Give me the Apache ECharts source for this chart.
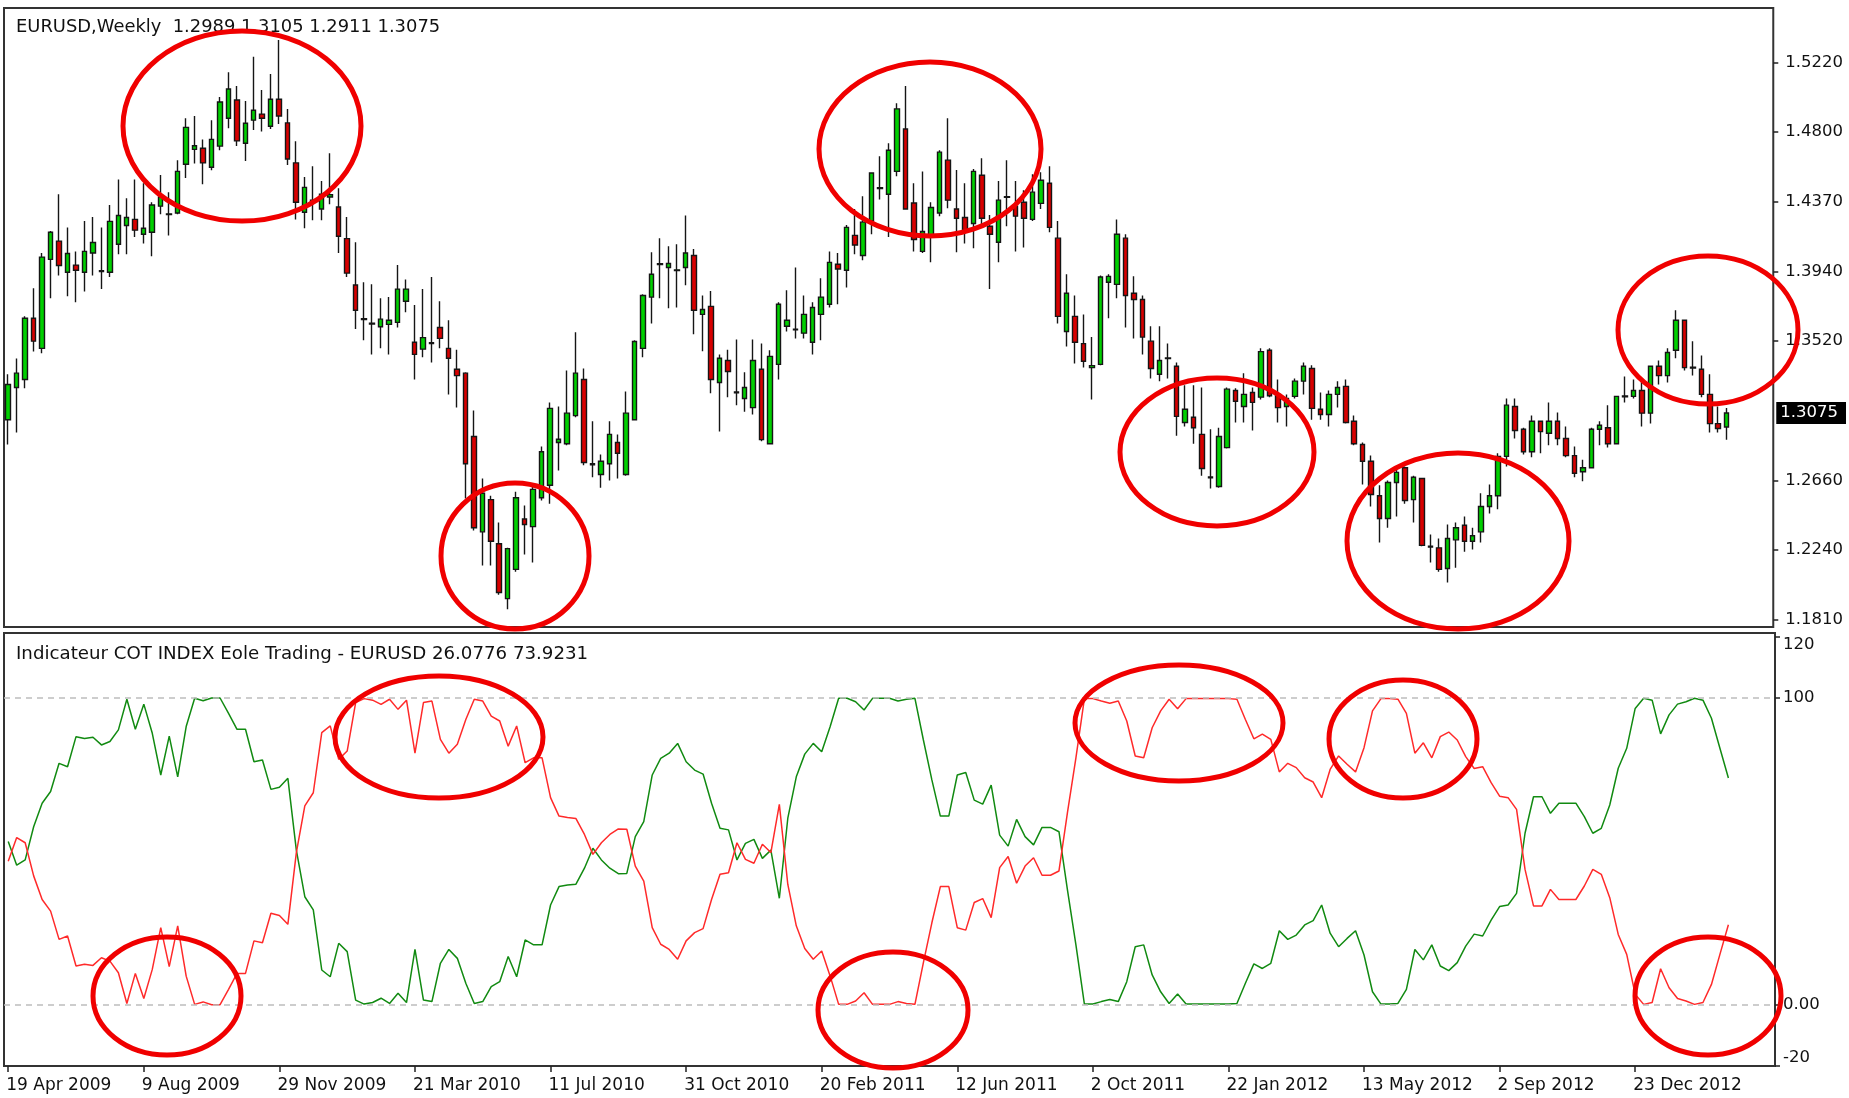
<!DOCTYPE html>
<html>
<head>
<meta charset="utf-8">
<script src="https://cdn.jsdelivr.net/npm/echarts@6/dist/echarts.min.js"></script>
<style>
html,body{margin:0;padding:0;background:#fff;}
#chart{width:1849px;height:1098px;}
</style>
</head>
<body>
<div id="chart"></div>
<script>
// ---- DATA (weekly EURUSD, 19 Apr 2009 .. 10 Mar 2013) ----
const tickLabels = ['19 Apr 2009','9 Aug 2009','29 Nov 2009','21 Mar 2010','11 Jul 2010','31 Oct 2010','20 Feb 2011','12 Jun 2011','2 Oct 2011','22 Jan 2012','13 May 2012','2 Sep 2012','23 Dec 2012'];
const priceTicks = [1.5220, 1.4800, 1.4370, 1.3940, 1.3520, 1.2660, 1.2240, 1.1810];
const cotTicks = [-20, 0, 100, 120];
const cotTickLabels = ['-20', '0.00', '100', '120'];

const openP = [1.3034,1.3231,1.3280,1.3655,1.3471,1.4016,1.4128,1.3937,1.3981,1.3937,1.4055,1.3942,1.3937,1.4109,1.4224,1.4261,1.4170,1.4182,1.4342,1.4290,
1.4300,1.4599,1.4690,1.4697,1.4580,1.4710,1.4881,1.4992,1.4727,1.4869,1.4906,1.4832,1.4997,1.4852,1.4607,1.4305,1.4366,1.4325,1.4398,1.4337,
1.4143,1.3859,1.3652,1.3625,1.3603,1.3618,1.3630,1.3760,1.3508,1.3466,1.3500,1.3599,1.3471,1.3343,1.3319,1.2931,1.2347,1.2544,1.2274,1.1938,
1.2117,1.2426,1.2379,1.2556,1.2632,1.2894,1.2887,1.3059,1.3280,1.2764,1.2698,1.2764,1.2894,1.2698,1.3034,1.3471,1.3785,1.3984,1.3966,1.3947,
1.3966,1.4040,1.3679,1.3728,1.3262,1.3397,1.3204,1.3164,1.3108,1.3343,1.2887,1.3373,1.3606,1.3589,1.3564,1.3508,1.3679,1.3741,1.3986,1.3949,
1.4163,1.4040,1.4251,1.4450,1.4415,1.4555,1.4815,1.4361,1.4065,1.4158,1.4300,1.4624,1.4325,1.4273,1.4236,1.4531,1.4219,1.4121,1.4396,1.4342,
1.4366,1.4261,1.4359,1.4482,1.4146,1.3574,1.3667,1.3500,1.3353,1.3373,1.3876,1.3863,1.4146,1.3809,1.3770,1.3515,1.3312,1.3412,1.3361,1.3017,
1.3049,1.2944,1.2683,1.2625,1.2863,1.3213,1.3115,1.3201,1.3172,1.3459,1.3189,1.3115,1.3177,1.3270,1.3348,1.3098,1.3066,1.3189,1.3238,1.3024,
1.2882,1.2779,1.2568,1.2429,1.2649,1.2740,1.2544,1.2674,1.2259,1.2249,1.2122,1.2298,1.2387,1.2289,1.2347,1.2502,1.2568,1.2809,1.3115,1.2975,
1.2838,1.3024,1.2951,1.3024,1.2919,1.2814,1.2715,1.2740,1.2975,1.2985,1.2887,1.3179,1.3177,1.3213,1.3074,1.3361,1.3304,1.3459,1.3643,1.3356,
1.3343,1.3189,1.3010,1.2989];
const closeP = [1.3250,1.3319,1.3655,1.3515,1.4030,1.4182,1.3979,1.4052,1.3949,1.4065,1.4119,1.3947,1.4249,1.4285,1.4273,1.4195,1.4207,1.4349,1.4398,1.4295,
1.4555,1.4825,1.4712,1.4607,1.4751,1.4980,1.5060,1.4742,1.4850,1.4930,1.4881,1.4997,1.4894,1.4631,1.4366,1.4457,1.4379,1.4415,1.4413,1.4158,
1.3932,1.3704,1.3647,1.3620,1.3650,1.3643,1.3834,1.3834,1.3434,1.3537,1.3505,1.3532,1.3410,1.3304,1.2764,1.2372,1.2583,1.2289,1.1975,1.2244,
1.2556,1.2392,1.2607,1.2838,1.3103,1.2914,1.3074,1.3319,1.2772,1.2757,1.2779,1.2944,1.2828,1.3074,1.3513,1.3795,1.3925,1.3989,1.3991,1.3952,
1.4055,1.3704,1.3709,1.3280,1.3410,1.3329,1.3199,1.3231,1.3397,1.2912,1.3422,1.3741,1.3643,1.3584,1.3679,1.3721,1.3785,1.3998,1.3957,1.4212,
1.4104,1.4244,1.4545,1.4455,1.4685,1.4938,1.4325,1.4138,1.4187,1.4334,1.4673,1.4379,1.4268,1.4195,1.4555,1.4268,1.4170,1.4379,1.4400,1.4281,
1.4268,1.4428,1.4501,1.4212,1.3667,1.3809,1.3508,1.3392,1.3365,1.3908,1.3912,1.4170,1.3795,1.3770,1.3540,1.3348,1.3397,1.3408,1.3054,1.3098,
1.2985,1.2735,1.2678,1.2931,1.3221,1.3147,1.3189,1.3140,1.3451,1.3181,1.3108,1.3164,1.3270,1.3361,1.3103,1.3066,1.3189,1.3231,1.3017,1.2887,
1.2779,1.2576,1.2429,1.2649,1.2711,1.2539,1.2681,1.2264,1.2254,1.2117,1.2306,1.2372,1.2289,1.2323,1.2502,1.2568,1.2809,1.3123,1.2968,1.2838,
1.3024,1.2961,1.3024,1.2919,1.2814,1.2706,1.2740,1.2975,1.3000,1.2887,1.3177,1.3174,1.3213,1.3074,1.3361,1.3304,1.3446,1.3643,1.3353,1.3351,
1.3189,1.3010,1.2980,1.3075];
const highP = [1.3312,1.3409,1.3667,1.3839,1.4055,1.4190,1.4415,1.4212,1.4065,1.4251,1.4276,1.4212,1.4349,1.4506,1.4391,1.4506,1.4482,1.4366,1.4533,1.4428,
1.4624,1.4881,1.4894,1.4751,1.4869,1.5011,1.5163,1.5078,1.4987,1.5257,1.5053,1.5151,1.5360,1.4938,1.4739,1.4521,1.4587,1.4496,1.4666,1.4452,
1.4276,1.4121,1.3876,1.3863,1.3778,1.3785,1.3981,1.3893,1.3736,1.3834,1.3908,1.3760,1.3643,1.3463,1.3324,1.3091,1.2674,1.2568,1.2404,1.2249,
1.2593,1.2509,1.2625,1.2870,1.3140,1.3115,1.3336,1.3569,1.3348,1.3024,1.2821,1.3024,1.2944,1.3206,1.3520,1.3802,1.4060,1.4146,1.4096,1.4109,
1.4285,1.4079,1.3795,1.3822,1.3434,1.3463,1.3525,1.3324,1.3525,1.3500,1.3459,1.3753,1.3827,1.3966,1.3795,1.3753,1.3900,1.4065,1.4055,1.4227,
1.4325,1.4403,1.4550,1.4648,1.4727,1.4972,1.5078,1.4482,1.4555,1.4366,1.4685,1.4881,1.4563,1.4482,1.4570,1.4636,1.4288,1.4496,1.4624,1.4496,
1.4440,1.4538,1.4550,1.4587,1.4251,1.3925,1.3795,1.3679,1.3540,1.3917,1.3925,1.4261,1.4170,1.3912,1.3795,1.3606,1.3606,1.3500,1.3385,1.3245,
1.3245,1.3231,1.2975,1.2985,1.3231,1.3226,1.3319,1.3231,1.3471,1.3471,1.3280,1.3189,1.3287,1.3385,1.3368,1.3201,1.3213,1.3270,1.3280,1.3059,
1.2894,1.2814,1.2632,1.2661,1.2740,1.2747,1.2691,1.2678,1.2330,1.2306,1.2392,1.2404,1.2441,1.2372,1.2583,1.2637,1.2828,1.3164,1.3164,1.2985,
1.3059,1.3029,1.3140,1.3078,1.2993,1.2870,1.2789,1.2985,1.3024,1.3123,1.3181,1.3299,1.3280,1.3287,1.3366,1.3397,1.3471,1.3704,1.3648,1.3515,
1.3427,1.3312,1.3115,1.3105];
const lowP = [1.2882,1.2956,1.3226,1.3451,1.3441,1.3778,1.3917,1.3790,1.3753,1.3819,1.3917,1.3834,1.3908,1.4047,1.4047,1.4153,1.4114,1.4035,1.4293,1.4163,
1.4293,1.4514,1.4604,1.4477,1.4562,1.4685,1.4820,1.4710,1.4619,1.4808,1.4800,1.4815,1.4845,1.4594,1.4261,1.4207,1.4256,1.4256,1.4354,1.4055,
1.3908,1.3589,1.3520,1.3434,1.3471,1.3434,1.3599,1.3692,1.3280,1.3417,1.3385,1.3471,1.3189,1.3108,1.2551,1.2355,1.2141,1.2141,1.1962,1.1872,
1.2102,1.2208,1.2159,1.2539,1.2519,1.2723,1.2877,1.3049,1.2755,1.2681,1.2617,1.2661,1.2674,1.2691,1.3029,1.3417,1.3623,1.3778,1.3716,1.3721,
1.3858,1.3557,1.3454,1.3196,1.2961,1.3172,1.3123,1.3083,1.3066,1.2902,1.2882,1.3280,1.3574,1.3532,1.3532,1.3434,1.3520,1.3721,1.3741,1.3844,
1.4047,1.4011,1.4170,1.4383,1.4153,1.4526,1.4320,1.4065,1.4055,1.3998,1.4281,1.4330,1.4060,1.4114,1.4084,1.4219,1.3834,1.3998,1.4219,1.4065,
1.4089,1.4251,1.4325,1.4182,1.3623,1.3483,1.3378,1.3353,1.3157,1.3368,1.3655,1.3778,1.3599,1.3532,1.3434,1.3287,1.3270,1.3287,1.2936,1.2993,
1.2887,1.2691,1.2612,1.2617,1.2858,1.3017,1.3017,1.2968,1.3157,1.3172,1.3017,1.2993,1.3164,1.3189,1.3034,1.3034,1.2993,1.3108,1.3010,1.2877,
1.2637,1.2502,1.2281,1.2372,1.2441,1.2519,1.2404,1.2259,1.2159,1.2102,1.2036,1.2127,1.2225,1.2239,1.2281,1.2460,1.2485,1.2747,1.2919,1.2821,
1.2804,1.2828,1.2877,1.2877,1.2804,1.2681,1.2657,1.2735,1.2877,1.2863,1.2882,1.3140,1.3164,1.2993,1.3010,1.3250,1.3262,1.3410,1.3336,1.3304,
1.3172,1.2956,1.2956,1.2911];

const cotGreen = [53.2,45.5,47.2,58.0,65.7,69.5,78.7,77.6,87.4,86.8,87.2,84.7,85.8,89.6,99.6,89.8,98.0,88.5,74.9,87.6,
74.3,90.7,99.9,99.1,100,100,95.0,89.8,89.8,79.2,79.8,70.2,70.9,73.8,50.4,35.2,30.9,11.3,9.1,20.0,
17.3,1.5,0.2,0.7,2.1,0.4,3.7,0.7,18.0,1.5,1.0,13.5,18.0,15.1,7.0,0.4,1.0,5.9,7.5,15.7,
9.1,21.1,19.5,19.5,32.5,38.5,39.0,39.3,44.5,51.0,47.2,44.5,42.7,42.8,54.8,59.7,74.9,80.3,82.0,85.2,
79.2,76.5,75.2,65.7,57.5,57.0,47.2,52.6,53.9,47.7,50.4,34.7,60.8,74.3,81.7,85.2,82.5,90.7,99.9,99.9,
98.8,96.1,99.9,99.9,99.9,99.0,99.6,99.9,86.3,73.3,61.5,61.5,74.9,75.7,66.7,65.4,71.6,55.3,51.7,60.4,
54.8,52.1,57.8,57.8,56.4,37.4,19.5,0.2,0.2,1.0,1.7,1.0,7.5,18.9,19.5,9.7,4.2,0.4,3.5,0.2,
0.2,0.2,0.2,0.2,0.2,0.4,7.0,13.3,11.8,13.5,24.1,21.3,22.7,26.0,27.4,32.5,23.3,18.9,21.6,24.1,
16.2,4.2,0.2,0.2,0.4,5.0,18.0,14.6,19.5,12.6,11.1,13.7,19.1,23.0,22.4,27.6,32.0,32.5,36.3,55.9,
67.8,67.8,62.4,65.7,65.7,65.7,61.3,55.9,57.5,65.1,77.1,83.6,96.6,99.9,99.3,88.3,94.5,98.0,98.8,99.9,
99.3,93.4,83.6,73.9231];
const cotRed = [46.8,54.5,52.8,42.0,34.3,30.5,21.3,22.4,12.6,13.2,12.8,15.3,14.2,10.4,0.4,10.2,2.0,11.5,25.1,12.4,
25.7,9.3,0.1,0.9,0,0,5.0,10.2,10.2,20.8,20.2,29.8,29.1,26.2,49.6,64.8,69.1,88.7,90.9,80.0,
82.7,98.5,99.8,99.3,97.9,99.6,96.3,99.3,82.0,98.5,99.0,86.5,82.0,84.9,93.0,99.6,99.0,94.1,92.5,84.3,
90.9,78.9,80.5,80.5,67.5,61.5,61.0,60.7,55.5,49.0,52.8,55.5,57.3,57.2,45.2,40.3,25.1,19.7,18.0,14.8,
20.8,23.5,24.8,34.3,42.5,43.0,52.8,47.4,46.1,52.3,49.6,65.3,39.2,25.7,18.3,14.8,17.5,9.3,0.1,0.1,
1.2,3.9,0.1,0.1,0.1,1.0,0.4,0.1,13.7,26.7,38.5,38.5,25.1,24.3,33.3,34.6,28.4,44.7,48.3,39.6,
45.2,47.9,42.2,42.2,43.6,62.6,80.5,99.8,99.8,99.0,98.3,99.0,92.5,81.1,80.5,90.3,95.8,99.6,96.5,99.8,
99.8,99.8,99.8,99.8,99.8,99.6,93.0,86.7,88.2,86.5,75.9,78.7,77.3,74.0,72.6,67.5,76.7,81.1,78.4,75.9,
83.8,95.8,99.8,99.8,99.6,95.0,82.0,85.4,80.5,87.4,88.9,86.3,80.9,77.0,77.6,72.4,68.0,67.5,63.7,44.1,
32.2,32.2,37.6,34.3,34.3,34.3,38.7,44.1,42.5,34.9,22.9,16.4,3.4,0.1,0.7,11.7,5.5,2.0,1.2,0.1,
0.7,6.6,16.4,26.0776];

// ---- BUILD ----
const FONT = "'DejaVu Sans', sans-serif";
const nBars = openP.length;
const nSlots = nBars + 5;               // empty shift area on the right
const LABEL_EVERY = 16;
const categories = [];
for (let i = 0; i < nSlots; i++) categories.push(String(i));
const candleData = openP.map((o, i) => [o, closeP[i], lowP[i], highP[i]]);
const showTick = (idx) => idx % LABEL_EVERY === 0 && idx < nBars;
const lastClose = closeP[nBars - 1];

const chart = echarts.init(document.getElementById('chart'), null, {renderer: 'canvas'});

const ellipses = [
  [242,126,119,95],[515,556,74,73],[930,149,111,87],[1217,452,97,74],[1458,541,111,88],[1708,330,90,74],
  [439,737,104,61],[167,996,74,59],[1179,723,104,58],[1403,739,74,59],[893,1010,75,58],[1708,996,73,59]
].map(e => ({
  type: 'ellipse', z: 100, silent: true,
  shape: {cx: e[0], cy: e[1], rx: e[2], ry: e[3]},
  style: {fill: 'none', stroke: '#f00000', lineWidth: 5}
}));

const titles = [
  {type: 'text', z: 50, style: {x: 16, y: 27, text: 'EURUSD,Weekly  ' + [openP[nBars-1], highP[nBars-1], lowP[nBars-1], closeP[nBars-1]].map(v => v.toFixed(4)).join(' '),
    font: '17.9px ' + FONT, fill: '#111', verticalAlign: 'middle'}},
  {type: 'text', z: 50, style: {x: 16, y: 654, text: 'Indicateur COT INDEX Eole Trading - EURUSD ' + cotRed[nBars-1].toFixed(4) + ' ' + cotGreen[nBars-1].toFixed(4),
    font: '18.2px ' + FONT, fill: '#111', verticalAlign: 'middle'}}
];

const option = {
  animation: false,
  backgroundColor: '#fff',
  grid: [
    {left: 4, top: 8, width: 1771, height: 619, show: true, borderColor: '#333', borderWidth: 2, backgroundColor: '#fff'},
    {left: 4, top: 633, width: 1771, height: 433, show: true, borderColor: '#333', borderWidth: 2, backgroundColor: '#fff'}
  ],
  xAxis: [
    {type: 'category', gridIndex: 0, data: categories, boundaryGap: true, position: 'bottom',
      axisLine: {show: false, onZero: false}, axisTick: {show: false}, axisLabel: {show: false}, splitLine: {show: false}},
    {type: 'category', gridIndex: 1, data: categories, boundaryGap: true, position: 'bottom',
      axisLine: {show: false, onZero: false},
      axisTick: {show: true, alignWithLabel: true, interval: (i) => showTick(i), length: 6, lineStyle: {color: '#222', width: 1.5}},
      axisLabel: {show: true, interval: (i) => showTick(i), showMinLabel: true, hideOverlap: false,
        formatter: (v, i) => tickLabels[Math.round(i / LABEL_EVERY)] || '',
        align: 'left', padding: [0, 0, 0, -2], margin: 11, fontSize: 17, fontFamily: FONT, color: '#111'},
      splitLine: {show: false}}
  ],
  yAxis: [
    {type: 'value', gridIndex: 0, position: 'right', min: 1.1764, max: 1.5556,
      splitLine: {show: false}, axisLine: {show: false},
      axisTick: {show: true, customValues: priceTicks, length: 5, lineStyle: {color: '#222', width: 1.5}},
      axisLabel: {customValues: priceTicks, formatter: (v) => v.toFixed(4), margin: 12, fontSize: 16.5, fontFamily: FONT, color: '#111'}},
    {type: 'value', gridIndex: 1, position: 'right', min: -20, max: 121.2,
      splitLine: {show: false}, axisLine: {show: false},
      axisTick: {show: true, customValues: cotTicks, length: 5, lineStyle: {color: '#222', width: 1.5}},
      axisLabel: {customValues: cotTicks, formatter: (v) => cotTickLabels[cotTicks.indexOf(v)] ?? '',
        margin: 8, fontSize: 16.5, fontFamily: FONT, color: '#111',
        verticalAlignMinLabel: 'bottom', verticalAlignMaxLabel: 'top'}},
    {type: 'value', gridIndex: 0, position: 'right', offset: 0, min: 1.1764, max: 1.5556,
      splitLine: {show: false}, axisLine: {show: false}, axisTick: {show: false},
      axisLabel: {customValues: [lastClose], formatter: (v) => v.toFixed(4), margin: 3,
        backgroundColor: '#000', color: '#fff', fontSize: 16.5, fontFamily: FONT, padding: [3, 8, 2, 4]}}
  ],
  series: [
    {type: 'candlestick', xAxisIndex: 0, yAxisIndex: 0, data: candleData, barWidth: 5,
      itemStyle: {color: '#00d000', color0: '#d80000', borderColor: '#151515', borderColor0: '#151515', borderColorDoji: '#151515', borderWidth: 1.4}},
    {type: 'line', name: 'green', xAxisIndex: 1, yAxisIndex: 1, data: cotGreen, symbol: 'none',
      lineStyle: {color: '#118a11', width: 1.5}, itemStyle: {color: '#118a11'}, z: 3,
      markLine: {silent: true, symbol: ['none', 'none'], animation: false, label: {show: false},
        lineStyle: {color: '#bdbdbd', width: 1.5, type: [6, 5]},
        data: [{yAxis: 0}, {yAxis: 100}]}},
    {type: 'line', name: 'red', xAxisIndex: 1, yAxisIndex: 1, data: cotRed, symbol: 'none',
      lineStyle: {color: '#ff2a2a', width: 1.5}, itemStyle: {color: '#ff2a2a'}, z: 4}
  ],
  graphic: titles.concat(ellipses)
};
chart.setOption(option);
</script>
</body>
</html>
